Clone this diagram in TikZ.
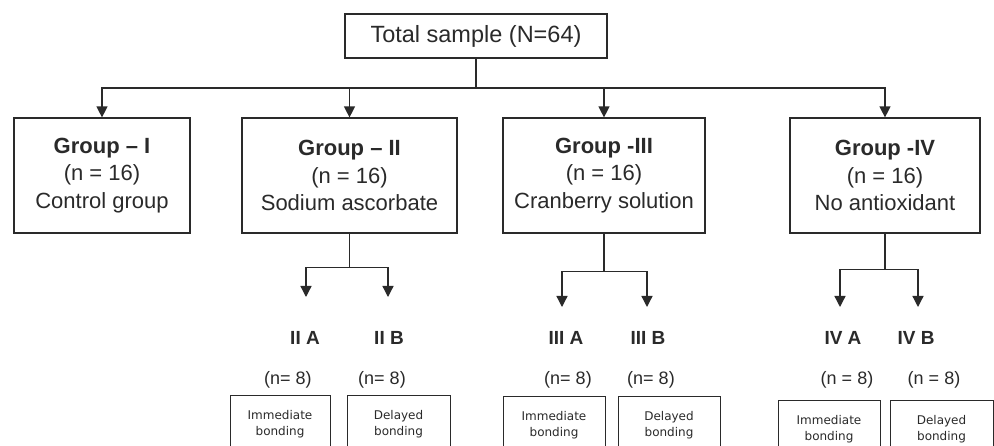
\documentclass[tikz,border=0pt]{standalone}
\usepackage{fontspec}
\setmainfont{Liberation Sans}
\newfontfamily\smallbox{DejaVu Sans}
\usetikzlibrary{arrows.meta}
\definecolor{ink}{HTML}{2A2A2A}

\begin{document}
\begin{tikzpicture}[x=1pt,y=-1pt,
  every node/.style={text=ink, inner sep=0pt},
  line/.style={draw=ink, line width=1.3pt},
  arr/.style={line, -{Triangle[width=11pt,length=11pt]}},
  topbox/.style={draw=ink, line width=1.2pt, minimum width=262pt, minimum height=44pt, font=\fontsize{23.5}{26}\selectfont},
  grp/.style={draw=ink, line width=1.2pt, minimum height=115pt, align=center, font=\fontsize{22}{27.5}\selectfont},
  sub/.style={font=\fontsize{19}{22}\selectfont\bfseries},
  cnt/.style={font=\fontsize{18}{22}\selectfont},
  bond/.style={draw=ink, line width=1pt, minimum width=102pt, minimum height=56pt, align=center, font=\smallbox\fontsize{12}{16.5}\selectfont}]
\useasboundingbox (0,0) rectangle (994,446);
\clip (0,0) rectangle (994,446);
\fill[white] (0,0) rectangle (994,446);

% top of the tree
\node[topbox] (total) at (476,36) {Total sample (N=64)};
\coordinate (bus) at (476,88);
\draw[line] (total) -- (bus);

% the four groups
\node[grp, minimum width=176pt] (g1) at (102,175.5) {\textbf{Group – I}\\(n = 16)\\Control group};
\node[grp, minimum width=215pt] (g2) at (349.5,175.5) {\textbf{Group – II}\\(n = 16)\\Sodium ascorbate};
\node[grp, minimum width=202pt] (g3) at (604,175.5) {\textbf{Group -III}\\(n = 16)\\Cranberry solution};
\node[grp, minimum width=190pt] (g4) at (885,175.5) {\textbf{Group -IV}\\(n = 16)\\No antioxidant};
\draw[arr] (bus) -| (g1);
\draw[arr] (bus) -| (g2);
\draw[arr] (bus) -| (g3);
\draw[arr] (bus) -| (g4);

% group II split
\draw[line] (g2.south) -- ++(0,34) coordinate (j2);
\coordinate (t2a) at (306,297);
\coordinate (t2b) at (388,297);
\draw[arr] (j2) -| (t2a);
\draw[arr] (j2) -| (t2b);
\node[sub] (l2a) at (305,338) {II A};
\node[sub] (l2b) at (389,338) {II B};
\node[cnt] (n2a) at (288,380) {(n= 8)};
\node[cnt] (n2b) at (382,380) {(n= 8)};
\node[bond, minimum width=100pt] (b2a) at (280,424) {Immediate\\bonding};
\node[bond, minimum width=103pt] (b2b) at (398.5,424) {Delayed\\bonding};

% group III split
\draw[line] (g3.south) -- ++(0,38) coordinate (j3);
\coordinate (t3a) at (562,307);
\coordinate (t3b) at (647,307);
\draw[arr] (j3) -| (t3a);
\draw[arr] (j3) -| (t3b);
\node[sub] (l3a) at (566,338) {III A};
\node[sub] (l3b) at (648,338) {III B};
\node[cnt] (n3a) at (568,380) {(n= 8)};
\node[cnt] (n3b) at (651,380) {(n= 8)};
\node[bond] (b3a) at (554,425) {Immediate\\bonding};
\node[bond] (b3b) at (669,425) {Delayed\\bonding};

% group IV split
\draw[line] (g4.south) -- ++(0,36) coordinate (j4);
\coordinate (t4a) at (840,307);
\coordinate (t4b) at (918,307);
\draw[arr] (j4) -| (t4a);
\draw[arr] (j4) -| (t4b);
\node[sub] (l4a) at (843,338) {IV A};
\node[sub] (l4b) at (916,338) {IV B};
\node[cnt] (n4a) at (847,380) {(n = 8)};
\node[cnt] (n4b) at (934,380) {(n = 8)};
\node[bond] (b4a) at (829,429) {Immediate\\bonding};
\node[bond, minimum width=103pt] (b4b) at (941.5,429) {Delayed\\bonding};
\end{tikzpicture}
\end{document}
